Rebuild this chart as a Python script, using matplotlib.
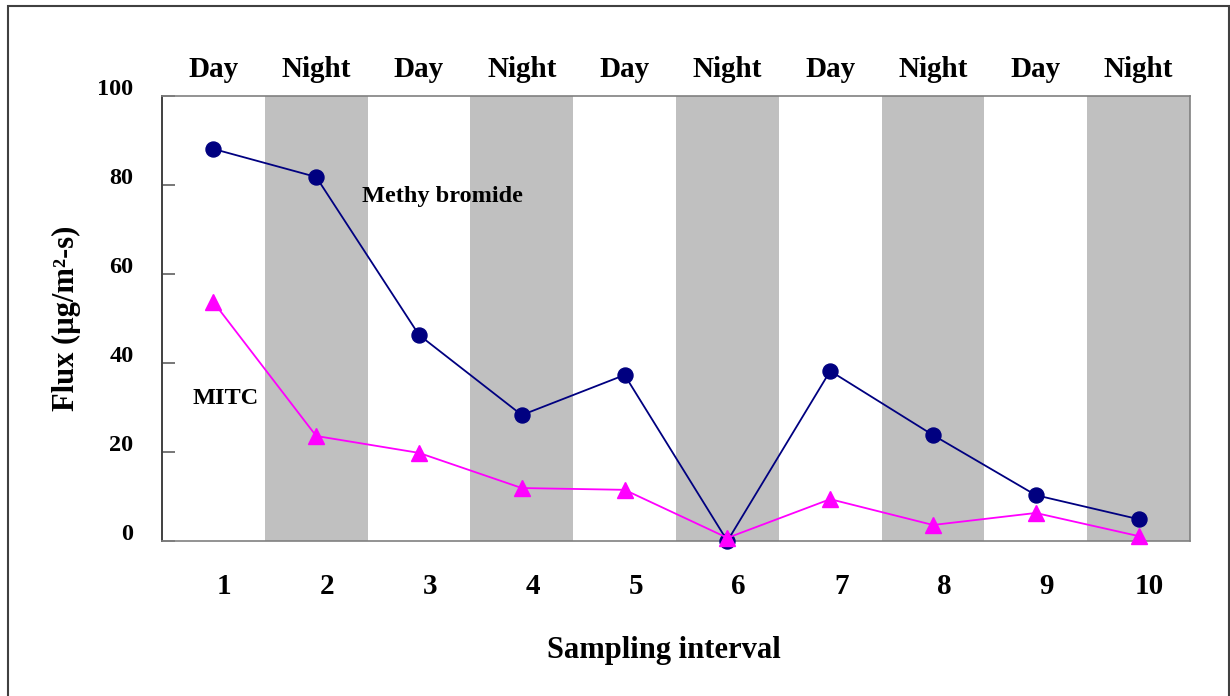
import matplotlib
matplotlib.use("Agg")
import matplotlib.pyplot as plt
import matplotlib.transforms as mtransforms
from matplotlib.patches import Rectangle

# datos
intervalos = [1, 2, 3, 4, 5, 6, 7, 8, 9, 10]
periodo = ["Day", "Night", "Day", "Night", "Day", "Night", "Day", "Night", "Day", "Night"]
metil_bromuro = [88.1, 81.8, 46.3, 28.3, 37.3, 0.0, 38.2, 23.8, 10.3, 4.9]
mitc = [53.7, 23.6, 19.8, 11.9, 11.5, 0.7, 9.4, 3.6, 6.3, 1.1]
y_ticks = [0, 20, 40, 60, 80, 100]

plt.rcParams["font.family"] = ["Liberation Serif", "DejaVu Serif"]
plt.rcParams["font.weight"] = "bold"

fig = plt.figure(figsize=(12.3, 6.96), dpi=100)
ax = fig.add_axes([0.1317, 0.2227, 0.8358, 0.6394])

# bandas de noche + etiquetas Day/Night arriba
for i, p in zip(intervalos, periodo):
    if p == "Night":
        ax.axvspan(i - 0.5, i + 0.5, color="#C0C0C0", lw=0, zorder=0)
    ax.text(i, 1.043, p, transform=ax.get_xaxis_transform(), ha="center", va="baseline",
            fontsize=21, fontweight="bold")

ax.plot(intervalos, metil_bromuro, color="#000080", lw=1.3, marker="o", ms=10.8,
        zorder=3, clip_on=False)
ax.plot(intervalos, mitc, color="#FF00FF", lw=1.3, marker="^", ms=11.5,
        zorder=3, clip_on=False)

ax.text(2.445, 77.5, "Methy bromide", fontsize=17.5, fontweight="bold", va="center", ha="left")
ax.text(0.80, 32.1, "MITC", fontsize=17.5, fontweight="bold", va="center", ha="left")

ax.set_xlim(0.5, 10.5)
ax.set_ylim(0, 100)
ax.set_xticks(intervalos)
ax.set_xticklabels([str(i) for i in intervalos], fontsize=21, fontweight="bold")
ax.set_yticks(y_ticks)
ax.set_yticklabels([str(v) for v in y_ticks], fontsize=17.5, fontweight="bold")
ax.tick_params(axis="x", length=0, pad=23)
ax.tick_params(axis="y", direction="in", length=9, width=1.2, color="#606060", pad=20.5)

dx = mtransforms.ScaledTranslation(11 / 100, 0, fig.dpi_scale_trans)
for lbl in ax.get_xticklabels():
    lbl.set_transform(lbl.get_transform() + dx)
dy = mtransforms.ScaledTranslation(0, 9 / 100, fig.dpi_scale_trans)
for lbl in ax.get_yticklabels():
    lbl.set_transform(lbl.get_transform() + dy)

for s in ["top", "right", "bottom"]:
    ax.spines[s].set_color("#808080")
    ax.spines[s].set_linewidth(1.2)
ax.spines["left"].set_color("#404040")
ax.spines["left"].set_linewidth(1.4)

fig.text(0.054, 0.543, "Flux (µg/m²-s)", rotation=90, ha="center", va="center",
         fontsize=22, fontweight="bold")
fig.text(0.54, 0.066, "Sampling interval", ha="center", va="center",
         fontsize=22, fontweight="bold")

# marco exterior
fig.patches.append(Rectangle((8 / 1230, -0.01), 1221 / 1230, 1 - 6 / 696 + 0.01,
                             transform=fig.transFigure, fill=False,
                             edgecolor="#404040", lw=1.5))

plt.savefig("out.png", dpi=100)
plt.close()
